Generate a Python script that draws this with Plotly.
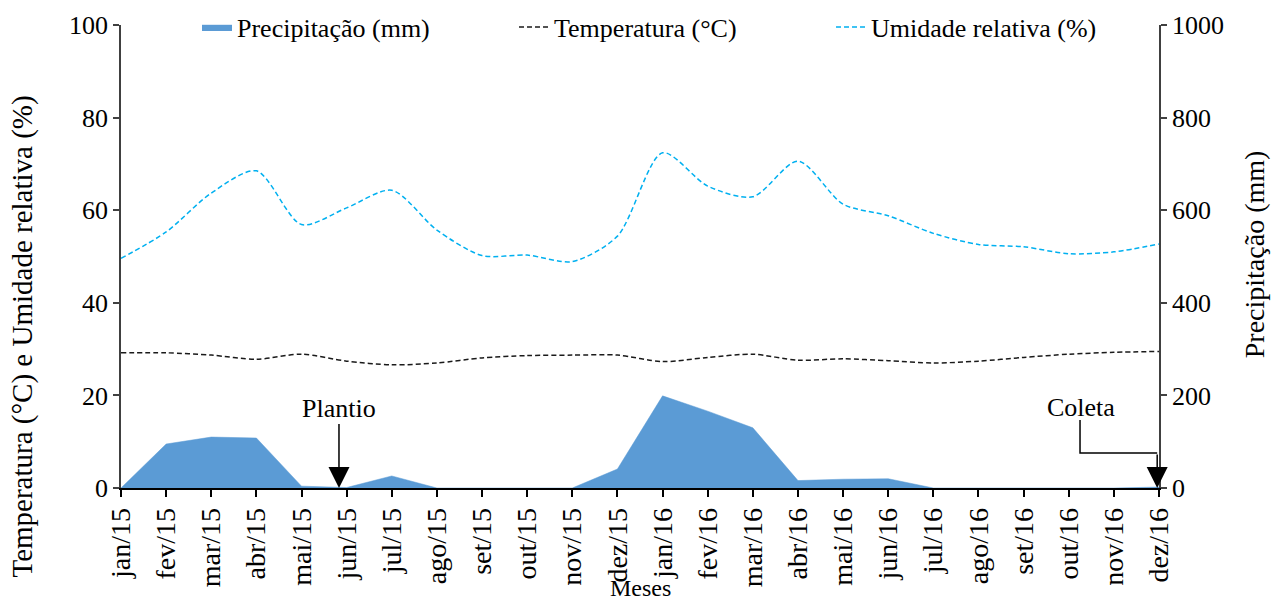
import plotly.graph_objects as go

meses = ["jan/15", "fev/15", "mar/15", "abr/15", "mai/15", "jun/15", "jul/15", "ago/15",
         "set/15", "out/15", "nov/15", "dez/15", "jan/16", "fev/16", "mar/16", "abr/16",
         "mai/16", "jun/16", "jul/16", "ago/16", "set/16", "out/16", "nov/16", "dez/16"]

precipitacao = [0, 95, 110, 108, 4, 1, 26, 0, 0, 0, 0, 41,
                199, 166, 130, 16, 19, 20, 0, 0, 0, 0, 0, 2]

temperatura = [29.2, 29.2, 28.7, 27.8, 28.9, 27.4, 26.6, 27.0, 28.1, 28.6, 28.7, 28.7,
               27.3, 28.2, 28.9, 27.6, 27.9, 27.5, 27.0, 27.4, 28.2, 28.9, 29.3, 29.5]

umidade = [49.6, 55.3, 63.7, 68.5, 56.9, 60.5, 64.3, 55.7, 50.2, 50.3, 48.9, 54.4,
           72.4, 65.2, 62.9, 70.6, 61.3, 58.8, 55.0, 52.6, 52.1, 50.6, 51.0, 52.7]

idx = list(range(len(meses)))
FONT = "Liberation Serif"

fig = go.Figure()
fig.add_trace(go.Scatter(x=idx, y=precipitacao, name="Precipitação (mm)", yaxis="y2",
                         mode="lines", fill="tozeroy", fillcolor="#5B9BD5",
                         line=dict(color="#5B9BD5", width=0.5)))
fig.add_trace(go.Scatter(x=idx, y=temperatura, name="Temperatura (°C)", mode="lines",
                         line=dict(color="#1a1a1a", width=1.5, dash="5px,3px",
                                   shape="spline", smoothing=0.8)))
fig.add_trace(go.Scatter(x=idx, y=umidade, name="Umidade relativa (%)", mode="lines",
                         line=dict(color="#00B0F0", width=1.5, dash="5px,3px",
                                   shape="spline", smoothing=0.8)))

axis_common = dict(showgrid=False, zeroline=False, showline=True, linecolor="#404040",
                   linewidth=1.5, ticks="outside", ticklen=6, tickcolor="#404040",
                   tickwidth=1.5, tickfont=dict(family=FONT, size=26, color="black"))

fig.update_layout(
    width=1271, height=604,
    margin=dict(l=121, r=112, t=25, b=116, autoexpand=False),
    paper_bgcolor="white", plot_bgcolor="white",
    font=dict(family=FONT, size=26, color="black"),
    showlegend=True,
    legend=dict(orientation="h", xref="container", yref="container",
                x=0.155, xanchor="left", y=0.955, yanchor="middle",
                font=dict(family=FONT, size=26), entrywidth=272, entrywidthmode="pixels",
                bgcolor="rgba(0,0,0,0)", traceorder="normal"),
    xaxis=dict(range=[0, 23], tickmode="array", tickvals=idx, ticktext=meses,
               tickangle=-90, showline=True, linecolor="black", linewidth=1.5,
               ticks="outside", ticklen=7, tickcolor="black", tickwidth=1.5,
               showgrid=False, zeroline=False,
               tickfont=dict(family=FONT, size=28, color="black")),
    yaxis=dict(range=[0, 100], tickvals=[0, 20, 40, 60, 80, 100], **axis_common),
    yaxis2=dict(range=[0, 1000], tickvals=[0, 200, 400, 600, 800, 1000], overlaying="y",
                side="right", anchor="x", **axis_common),
    annotations=[
        dict(text="Temperatura (°C) e Umidade relativa (%)", xref="paper", yref="paper",
             x=-0.095, y=0.328, textangle=-90, showarrow=False, xanchor="center",
             yanchor="middle", font=dict(family=FONT, size=29)),
        dict(text="Precipitação (mm)", xref="paper", yref="paper", x=1.092, y=0.506,
             textangle=-90, showarrow=False, xanchor="center", yanchor="middle",
             font=dict(family=FONT, size=28)),
        dict(text="Meses", xref="paper", yref="paper", x=0.5, y=-0.249, showarrow=False,
             xanchor="center", yanchor="bottom", font=dict(family=FONT, size=24)),
        dict(text="Plantio", x=4.83, y=0, xref="x", yref="y", showarrow=True,
             ax=0, ay=-80, arrowhead=2, arrowsize=2.8, arrowwidth=1.5, arrowcolor="black",
             font=dict(family=FONT, size=26)),
        dict(text="Coleta", x=21.28, y=17.4, xref="x", yref="y", showarrow=False,
             font=dict(family=FONT, size=26)),
        dict(text="", x=22.96, y=0, xref="x", yref="y", showarrow=True,
             ax=22.96, ay=7.56, axref="x", ayref="y", arrowhead=2, arrowsize=2.8,
             arrowwidth=1.5, arrowcolor="black"),
    ],
    shapes=[
        dict(type="path", xref="x", yref="y",
             path="M 21.25 14.7 L 21.25 7.56 L 22.96 7.56",
             line=dict(color="black", width=1.5)),
    ],
)

fig.write_html("out.html", config={"displayModeBar": False},
               post_script="document.body.style.margin='0px';")
